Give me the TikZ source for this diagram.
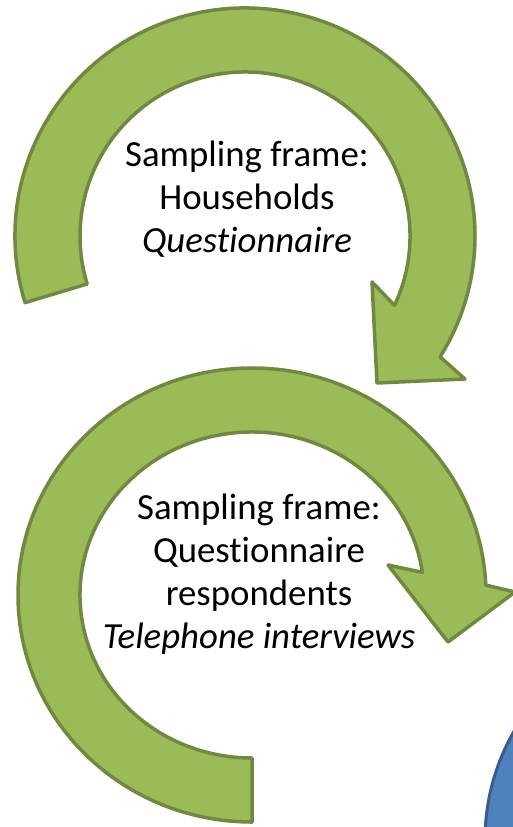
\documentclass[tikz,border=0pt]{standalone}
\usepackage{fontspec}
\setmainfont{Carlito}[Ligatures=NoCommon]
\usetikzlibrary{calc}

\definecolor{leafgreen}{HTML}{9BBB59}
\definecolor{leafedge}{HTML}{71893F}
\definecolor{poolblue}{HTML}{4F81BD}
\definecolor{pooledge}{HTML}{385D8A}

\begin{document}
\begin{tikzpicture}[
		x=1pt, y=-1pt,
		loop arrow/.style={fill=leafgreen, draw=leafedge, line width=3.5pt, line join=round},
		every node/.style={align=center, font=\fontsize{36.8}{43}\selectfont}
	]
  \useasboundingbox (0,0) rectangle (513,827);
  \clip (0,0) rectangle (513,827);

  % first loop: tail on the left, head down on the right
  \coordinate (c_top) at (245,236);
  \draw [loop arrow] (c_top) ++(163:230 and 228)
    arc [start angle=163, end angle=392, x radius=230, y radius=228]
    -- (465,379) -- (377,383) -- (372,282)
    -- ($(c_top)+(385:165 and 164)$)
    arc [start angle=385, end angle=163, x radius=165, y radius=164] -- cycle;

  % second loop: tail at the bottom, head to the right
  \coordinate (c_bot) at (252,595);
  \draw [loop arrow] (c_bot) ++(90:234 and 227)
    arc [start angle=90, end angle=357.5, x radius=234, y radius=227]
    -- (515,592) -- (448,642) -- (388,565)
    -- ($(c_bot)+(352:172 and 163)$)
    arc [start angle=352, end angle=90, x radius=172, y radius=163] -- cycle;

  % next loop, only its edge shows
  \draw [fill=poolblue, draw=pooledge, line width=3pt] (703,840) circle (218);

  \node (top_text) at (247,199) {Sampling frame:\\Households\\\textit{Questionnaire}};
  \node (bot_text) at (259,574) {Sampling frame:\\Questionnaire\\respondents\\\textit{Telephone interviews}};
\end{tikzpicture}
\end{document}
